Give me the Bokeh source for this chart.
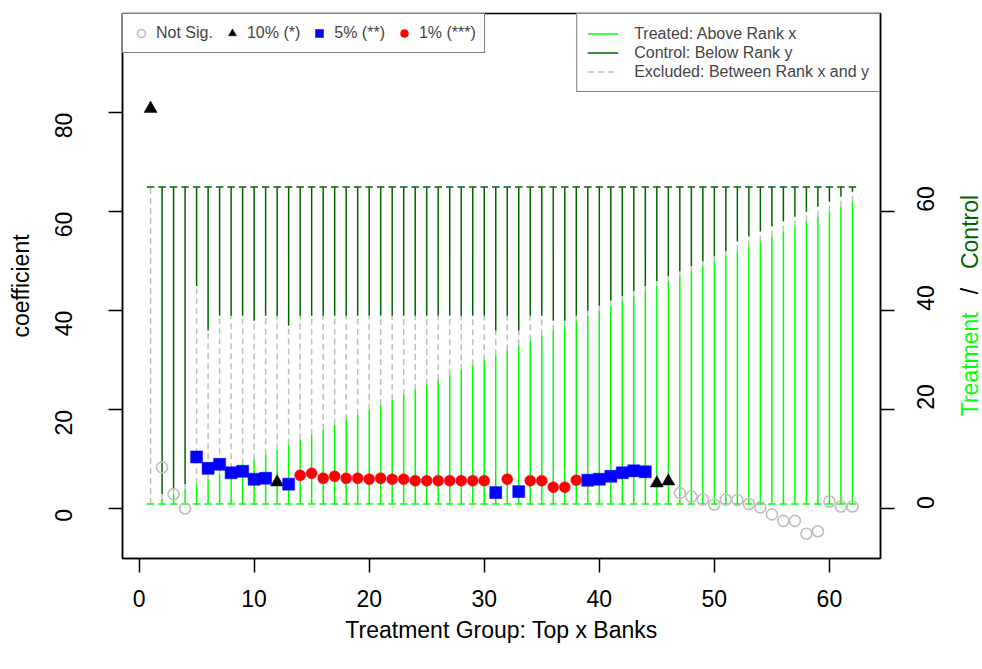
import math
from bokeh.plotting import figure
from bokeh.layouts import row
from bokeh.models import Range1d, LinearAxis, Legend, LegendItem, FixedTicker
from bokeh.core.properties import value
from bokeh.embed import file_html
from bokeh.resources import INLINE

# ---------------- data ----------------
rank = list(range(1, 63))  # treatment group: top x banks
coef = [80.8, 8.4, 3.0, 0.1, 10.5, 8.2, 9.0, 7.3, 7.6, 6.0,
        6.2, 5.4, 5.0, 6.8, 7.2, 6.2, 6.6, 6.2, 6.2, 6.0,
        6.2, 6.0, 6.0, 5.7, 5.7, 5.7, 5.7, 5.7, 5.7, 5.7,
        3.3, 6.0, 3.5, 5.7, 5.7, 4.4, 4.4, 5.8, 5.8, 6.0,
        6.6, 7.3, 7.7, 7.5, 5.2, 5.6, 3.2, 2.5, 1.9, 0.9,
        1.9, 1.8, 1.0, 0.3, -1.1, -2.4, -2.4, -5.0, -4.5, 1.5,
        0.5, 0.5]
sig = ["10", "ns", "ns", "ns", "5", "5", "5", "5", "5", "5",
       "5", "10", "5", "1", "1", "1", "1", "1", "1", "1",
       "1", "1", "1", "1", "1", "1", "1", "1", "1", "1",
       "5", "1", "5", "1", "1", "1", "1", "1", "5", "5",
       "5", "5", "5", "5", "10", "10", "ns", "ns", "ns", "ns",
       "ns", "ns", "ns", "ns", "ns", "ns", "ns", "ns", "ns", "ns",
       "ns", "ns"]
# treated: ranks 1..x ; control: ranks y..65 ; excluded in between
treated_top = [1, 2, 3, 4, 5, 6, 7, 8, 9, 10,
               11, 12, 13, 14, 15, 16, 17, 18, 19, 20,
               21, 22, 23, 24, 25, 26, 27, 28, 29, 30,
               31, 32, 33, 34, 35, 36, 37, 38, 39, 40,
               41, 42, 43, 44, 45, 46, 47, 48, 49, 50,
               51, 52, 53, 54, 55, 56, 57, 58, 59, 60,
               61, 62]
control_bottom = [65, 3, 4, 5, 45, 36, 39, 39, 39, 38,
                  39, 39, 37, 39, 39, 39, 39, 39, 39, 39,
                  39, 39, 39, 39, 39, 39, 39, 39, 39, 39,
                  36, 39, 36, 39, 39, 38, 38, 39, 40, 41,
                  42, 43, 44, 45, 46, 47, 48, 49, 50, 51,
                  52, 54, 55, 56, 57, 58, 59, 60, 61, 62,
                  63, 64]
rank_min = 1
rank_max = 65

x_ticks = [0, 10, 20, 30, 40, 50, 60]
y_ticks = [0, 20, 40, 60, 80]
y2_ticks = [0, 20, 40, 60]

right_title_words = ["Treatment", "/", "Control"]
right_title_colors = ["#00FF00", "black", "#006400"]
right_title_y = [29.2, 44.0, 55.9]

FONT = "Liberation Sans"
LIME = "#00FF00"
DKGREEN = "#006400"
GRAY = "#BEBEBE"

H = 667
TOP = 13
BOTTOM = 109

p = figure(width=948, height=H, output_backend="svg", toolbar_location=None,
           x_range=Range1d(-1.44, 64.44), y_range=Range1d(-10, 100),
           min_border_left=122, min_border_right=68, min_border_top=TOP,
           min_border_bottom=BOTTOM)
p.grid.visible = False
p.outline_line_color = "black"
p.outline_line_width = 1.5
p.background_fill_color = "white"
p.border_fill_color = "white"

n = len(rank)
bottoms = [rank_min] * n
tops = [rank_max] * n

r_excl = p.segment(x0=rank, y0=treated_top, x1=rank, y1=control_bottom,
                   line_color=GRAY, line_width=1.5, line_dash="6 4")
r_treat = p.segment(x0=rank, y0=bottoms, x1=rank, y1=treated_top,
                    line_color=LIME, line_width=1.5)
r_ctrl = p.segment(x0=rank, y0=control_bottom, x1=rank, y1=tops,
                   line_color=DKGREEN, line_width=1.5)
p.scatter(x=rank, y=bottoms, marker="dash", size=7.5, line_color=LIME, line_width=1.5)
p.scatter(x=rank, y=tops, marker="dash", size=7.5, line_color=DKGREEN, line_width=1.5)


def pick(cat):
    xs = [x for x, s in zip(rank, sig) if s == cat]
    ys = [c for c, s in zip(coef, sig) if s == cat]
    return xs, ys

xs, ys = pick("ns")
r_ns = p.scatter(x=xs, y=ys, marker="circle", size=11, fill_color=None,
                 line_color=GRAY, line_width=1.6)
xs, ys = pick("10")
r_10 = p.scatter(x=xs, y=ys, marker="triangle", size=13, fill_color="black",
                 line_color="black", line_width=0.5)
xs, ys = pick("5")
r_5 = p.scatter(x=xs, y=ys, marker="square", size=12, fill_color="#0000FF",
                line_color="#0000FF", line_width=0.5)
xs, ys = pick("1")
r_1 = p.scatter(x=xs, y=ys, marker="circle", size=11, fill_color="#FF0000",
                line_color="#FF0000", line_width=0.5)


def style_axis(ax):
    ax.axis_line_color = "black"
    ax.axis_line_width = 1.5
    ax.major_tick_line_color = "black"
    ax.major_tick_line_width = 1.5
    ax.major_tick_out = 14
    ax.major_tick_in = 0
    ax.minor_tick_line_color = None
    ax.major_label_text_font = FONT
    ax.major_label_text_font_size = "23px"
    ax.major_label_text_color = "black"
    ax.axis_label_text_font = FONT
    ax.axis_label_text_font_size = "23px"
    ax.axis_label_text_font_style = "normal"
    ax.axis_label_text_color = "black"

xa = p.xaxis[0]
style_axis(xa)
xa.ticker = FixedTicker(ticks=x_ticks)
xa.major_label_standoff = 17
xa.axis_label = "Treatment Group: Top x Banks"
xa.axis_label_standoff = 7

ya = p.yaxis[0]
style_axis(ya)
ya.ticker = FixedTicker(ticks=y_ticks)
ya.major_label_orientation = math.pi / 2
ya.major_label_standoff = 45
ya.axis_label = "coefficient"
ya.axis_label_standoff = 10

ra = LinearAxis(ticker=FixedTicker(ticks=y2_ticks))
style_axis(ra)
ra.major_label_orientation = math.pi / 2
ra.major_label_standoff = 31
p.add_layout(ra, "right")

leg1 = Legend(items=[LegendItem(label="Not Sig.", renderers=[r_ns]),
                     LegendItem(label="10% (*)", renderers=[r_10]),
                     LegendItem(label="5% (**)", renderers=[r_5]),
                     LegendItem(label="1% (***)", renderers=[r_1])],
              location="top_left", orientation="horizontal", margin=0, padding=8,
              spacing=9, glyph_width=20, glyph_height=22, label_standoff=5,
              label_text_font=FONT, label_text_font_size="16px",
              border_line_color="black", border_line_width=1.5,
              background_fill_color="white", background_fill_alpha=1.0)
p.add_layout(leg1, "center")

leg2 = Legend(items=[LegendItem(label="Treated: Above Rank x", renderers=[r_treat]),
                     LegendItem(label="Control: Below Rank y", renderers=[r_ctrl]),
                     LegendItem(label="Excluded: Between Rank x and y", renderers=[r_excl])],
              location="top_right", orientation="vertical", margin=0, padding=10,
              spacing=0, glyph_width=31, glyph_height=19, label_height=19,
              label_standoff=16, label_text_font=FONT, label_text_font_size="16px",
              border_line_color="black", border_line_width=1.5,
              background_fill_color="white", background_fill_alpha=1.0)
p.add_layout(leg2, "center")

# narrow companion panel holding the two-coloured right-hand axis title
p2 = figure(width=34, height=H, output_backend="svg", toolbar_location=None,
            x_range=Range1d(0, 34), y_range=p.y_range,
            min_border_left=0, min_border_right=0, min_border_top=TOP,
            min_border_bottom=BOTTOM, x_axis_location=None, y_axis_location=None)
p2.grid.visible = False
p2.outline_line_color = None
p2.background_fill_color = "white"
p2.border_fill_color = "white"
p2.text(x=[21] * len(right_title_words), y=right_title_y, text=right_title_words,
        text_color=right_title_colors, angle=math.pi / 2, text_align="center",
        text_baseline="middle", text_font=value(FONT), text_font_size="23px")

layout = row(p, p2)
open("out.html", "w").write(file_html(layout, INLINE))
